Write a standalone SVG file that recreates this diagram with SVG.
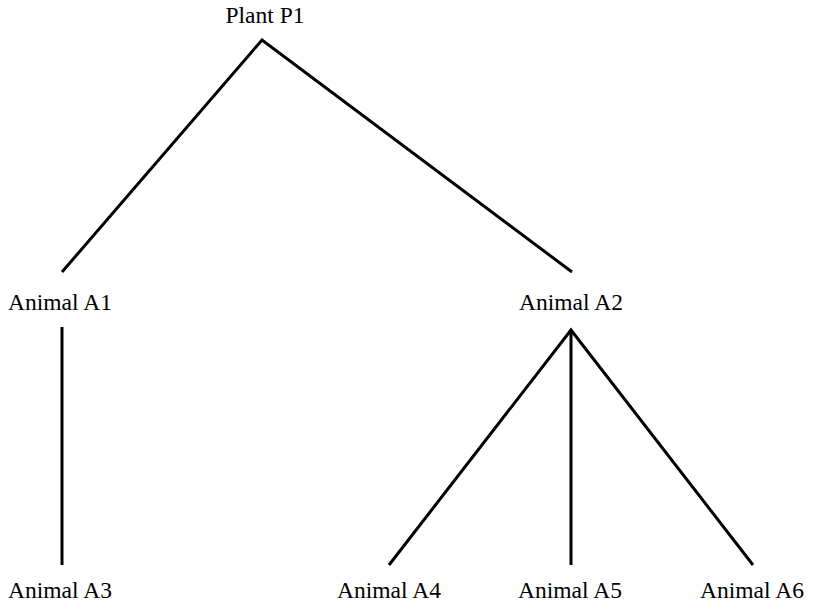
<svg xmlns="http://www.w3.org/2000/svg" width="814" height="611" viewBox="0 0 814 611">
  <style>
    .label { font-family: "Liberation Serif", "Times New Roman", serif; font-size: 23.5px; fill: #000; text-anchor: middle; }
    .edge { stroke: #000; stroke-width: 3; fill: none; stroke-linecap: butt; stroke-linejoin: miter; }
  </style>
  <rect width="814" height="611" fill="#fff"/>
  <g id="connectors">
    <polyline class="edge" points="62,272 262,40 572,272"/>
    <line class="edge" x1="62" y1="327" x2="62" y2="565"/>
    <polyline class="edge" points="389,565 571,330 753,565"/>
    <line class="edge" x1="571" y1="330" x2="571" y2="565"/>
  </g>
  <g id="plant-p1"><text class="label" x="265" y="23">Plant P1</text></g>
  <g id="animal-a1"><text class="label" x="60" y="310">Animal A1</text></g>
  <g id="animal-a2"><text class="label" x="571" y="310">Animal A2</text></g>
  <g id="animal-a3"><text class="label" x="60" y="598">Animal A3</text></g>
  <g id="animal-a4"><text class="label" x="389" y="598">Animal A4</text></g>
  <g id="animal-a5"><text class="label" x="570" y="598">Animal A5</text></g>
  <g id="animal-a6"><text class="label" x="752" y="598">Animal A6</text></g>
</svg>
